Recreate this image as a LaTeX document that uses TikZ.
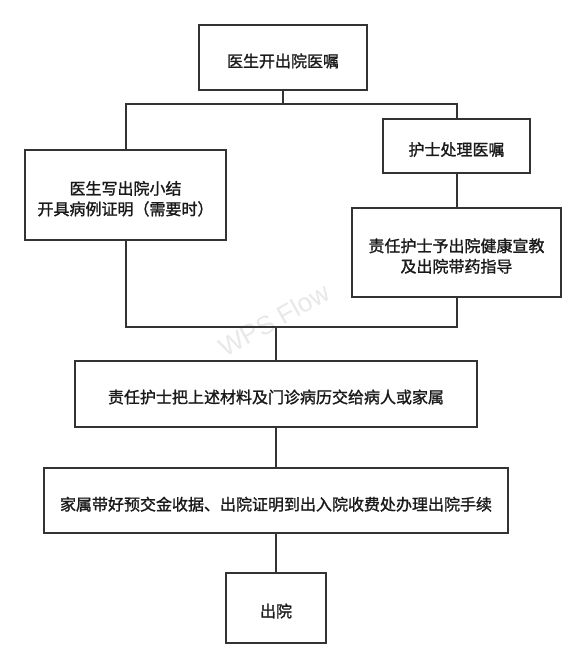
\documentclass[tikz,border=0pt]{standalone}
\usepackage{fontspec}
\newfontfamily\cjk{Noto Sans CJK SC}[FakeBold=1.4]
\newfontfamily\wmfont{Liberation Sans}
\begin{document}
\begin{tikzpicture}[x=1pt,y=-1pt,
  box/.style={draw=boxline, line width=2pt, fill=white, inner sep=0pt},
  txt/.style={inner sep=0pt, align=center, text=textcol,
    font=\cjk\fontsize{16}{20.5}\selectfont},
  link/.style={draw=boxline, line width=2pt}]
\definecolor{boxline}{HTML}{333333}
\definecolor{textcol}{HTML}{1A1A1A}
\useasboundingbox[fill=white] (0,0) rectangle (584,668);
% watermark
\node[rotate=29, text=black!9, font=\wmfont\fontsize{26}{26}\selectfont] (wm) at (274,320) {WPS Flow};
% boxes
\node[box, minimum width=168pt, minimum height=65pt] (b1) at (283,57.5) {};
\node[box, minimum width=201pt, minimum height=89.5pt] (b2) at (125.5,195.25) {};
\node[box, minimum width=147pt, minimum height=54pt] (b3) at (456.5,146) {};
\node[box, minimum width=209pt, minimum height=89pt] (b4) at (456.5,252.5) {};
\node[box, minimum width=402pt, minimum height=66pt] (b5) at (276,394) {};
\node[box, minimum width=464pt, minimum height=65.5pt] (b6) at (276,500.25) {};
\node[box, minimum width=100pt, minimum height=70pt] (b7) at (276,608) {};
% texts
\node[txt] (t1) at ([yshift=-3.5pt]b1.center) {医生开出院医嘱};
\node[txt] (t2) at ([yshift=-3.5pt]b2.center) {医生写出院小结\\开具病例证明（需要时）};
\node[txt] (t3) at ([yshift=-3.5pt]b3.center) {护士处理医嘱};
\node[txt] (t4) at ([yshift=-3.5pt]b4.center) {责任护士予出院健康宣教\\及出院带药指导};
\node[txt] (t5) at ([yshift=-3pt]b5.center) {责任护士把上述材料及门诊病历交给病人或家属};
\node[txt] (t6) at ([yshift=-4pt]b6.center) {家属带好预交金收据、出院证明到出入院收费处办理出院手续};
\node[txt] (t7) at ([yshift=-3pt]b7.center) {出院};
% connectors
\coordinate (br) at (283,104.5);
\coordinate (jn) at (276,326.5);
\draw[link] (b1.south) -- (br);
\draw[link] (b2.north) |- (br) -| (b3.north);
\draw[link] (b3.south) -- (b4.north);
\draw[link] (b2.south) |- (jn) -| (b4.south);
\draw[link] (jn) -- (b5.north);
\draw[link] (b5.south) -- (b6.north);
\draw[link] (b6.south) -- (b7.north);
\end{tikzpicture}
\end{document}
